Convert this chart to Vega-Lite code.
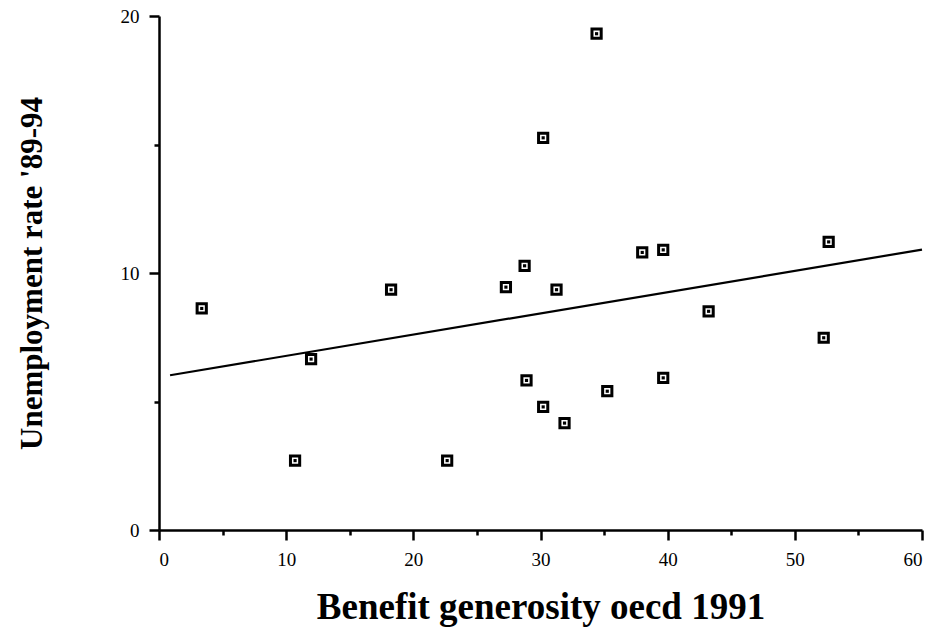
{
  "$schema": "https://vega.github.io/schema/vega-lite/v6.json",
  "width": 763,
  "height": 514,
  "autosize": {"type": "none"},
  "padding": {"left": 159, "top": 16, "right": 13, "bottom": 109},
  "background": "white",
  "config": {
    "view": {"stroke": null},
    "font": "Liberation Serif",
    "axis": {"grid": false, "domainColor": "black", "tickColor": "black", "labelColor": "black", "titleColor": "black", "domainWidth": 2.5, "tickWidth": 2.5, "labelFont": "Liberation Serif", "titleFont": "Liberation Serif"}
  },
  "datasets": {
    "pts": [
      {"generosity": 3.36, "unemployment": 8.62},
      {"generosity": 11.96, "unemployment": 6.65},
      {"generosity": 18.25, "unemployment": 9.35},
      {"generosity": 10.7, "unemployment": 2.70},
      {"generosity": 22.66, "unemployment": 2.70},
      {"generosity": 27.28, "unemployment": 9.45},
      {"generosity": 28.75, "unemployment": 10.28},
      {"generosity": 28.9, "unemployment": 5.82},
      {"generosity": 31.26, "unemployment": 9.35},
      {"generosity": 43.22, "unemployment": 8.51},
      {"generosity": 52.27, "unemployment": 7.48},
      {"generosity": 30.21, "unemployment": 4.79},
      {"generosity": 31.89, "unemployment": 4.16},
      {"generosity": 35.25, "unemployment": 5.40},
      {"generosity": 39.65, "unemployment": 5.92},
      {"generosity": 34.41, "unemployment": 19.31},
      {"generosity": 30.21, "unemployment": 15.26},
      {"generosity": 38.0, "unemployment": 10.8},
      {"generosity": 39.65, "unemployment": 10.9},
      {"generosity": 52.66, "unemployment": 11.21}
    ],
    "fit": [
      {"generosity": 0.87, "unemployment": 6.02},
      {"generosity": 60, "unemployment": 10.91}
    ]
  },
  "resolve": {"axis": {"x": "independent", "y": "independent"}},
  "layer": [
    {
      "data": {"name": "pts"},
      "mark": {"type": "point", "shape": "square", "filled": false, "stroke": "black", "strokeWidth": 3, "size": 85, "opacity": 1},
      "encoding": {
        "x": {"field": "generosity", "type": "quantitative", "scale": {"domain": [0, 60], "nice": false},
          "axis": {"orient": "bottom", "values": [0, 10, 20, 30, 40, 50, 60], "tickSize": 10, "domainWidth": 2.5, "labelFontSize": 19, "labelPadding": 10, "title": "Benefit generosity oecd 1991", "titleFontSize": 37, "titleFontWeight": "bold", "titlePadding": 20}},
        "y": {"field": "unemployment", "type": "quantitative", "scale": {"domain": [0, 20], "nice": false},
          "axis": {"orient": "left", "values": [0, 10, 20], "tickSize": 10, "domainWidth": 2.5, "labelFontSize": 19, "labelPadding": 10, "title": "Unemployment rate '89-94", "titleFontSize": 31, "titleFontWeight": "bold", "titlePadding": 72}}
      }
    },
    {
      "data": {"name": "pts"},
      "mark": {"type": "square", "size": 10, "color": "black", "opacity": 1},
      "encoding": {
        "x": {"field": "generosity", "type": "quantitative",
          "axis": {"orient": "bottom", "values": [5, 15, 25, 35, 45, 55], "tickSize": 5, "labels": false, "domain": false, "title": null}},
        "y": {"field": "unemployment", "type": "quantitative",
          "axis": {"orient": "left", "values": [5, 15], "tickSize": 5, "labels": false, "domain": false, "title": null}}
      }
    },
    {
      "data": {"name": "fit"},
      "mark": {"type": "line", "color": "black", "strokeWidth": 2.2},
      "encoding": {
        "x": {"field": "generosity", "type": "quantitative", "axis": null},
        "y": {"field": "unemployment", "type": "quantitative", "axis": null}
      }
    }
  ]
}
